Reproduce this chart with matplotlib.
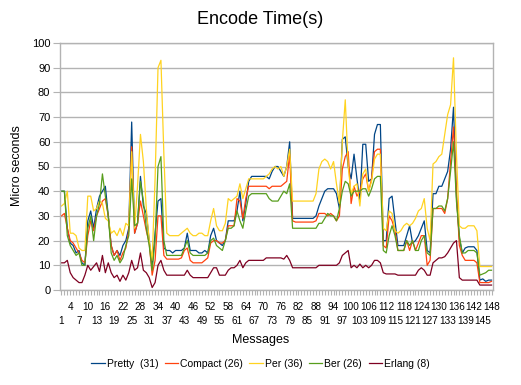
import matplotlib
matplotlib.use("Agg")
import matplotlib.pyplot as plt
from matplotlib.ticker import FixedLocator, FixedFormatter
import numpy as np

plt.rcParams['font.family'] = ['Liberation Sans', 'DejaVu Sans']

messages = list(range(1, 149))

pretty = [40, 40, 25, 19, 18, 15, 16, 11, 10, 28,
          32, 25, 33, 38, 40, 42, 30, 18, 14, 16,
          14, 18, 20, 25, 68, 23, 27, 46, 34, 31,
          20, 10, 23, 36, 37, 17, 16, 16, 15, 16,
          16, 16, 17, 23, 16, 16, 16, 15, 15, 16,
          15, 22, 25, 20, 19, 18, 20, 28, 28, 28,
          32, 40, 28, 35, 44, 46, 46, 46, 46, 46,
          46, 45, 48, 50, 50, 48, 46, 50, 60, 29,
          29, 29, 29, 29, 29, 29, 29, 30, 34, 37,
          40, 41, 41, 41, 39, 33, 61, 62, 50, 45,
          55, 45, 36, 59, 59, 44, 45, 63, 67, 67,
          20, 20, 37, 38, 28, 18, 18, 18, 22, 26,
          19, 20, 22, 25, 28, 16, 15, 39, 39, 42,
          42, 45, 48, 57, 74, 38, 21, 15, 17, 17.5,
          17.5, 17.5, 16, 4, 4.5, 3.5, 4, 4]

compact = [30, 31, 25, 20, 19, 17, 15, 12, 11, 22,
           28, 24, 30, 33, 36, 37, 30, 18, 14, 16,
           12, 15, 17, 24, 58, 23, 27, 36, 30, 24,
           19, 6, 12, 30, 30, 14, 12.5, 12.5, 12.5, 12.5,
           12.5, 13, 16, 17, 12, 11, 11, 11, 11, 12,
           13, 19, 20, 20, 19, 19, 20, 26, 26, 26,
           37, 36, 29, 37, 42, 42, 42, 42, 42, 42,
           42, 41, 42, 42, 42, 42, 43, 44, 55, 28,
           27.5, 27.5, 27.5, 27.5, 27.5, 27.5, 27.5, 28, 31, 31,
           31, 30, 31, 30, 28, 30, 49, 54, 56, 35,
           42, 38, 40, 45, 47, 40, 45, 56, 57, 57,
           18, 17, 30, 28, 24, 16, 16, 16, 20, 16,
           20, 16, 19, 22, 22, 10, 12, 33, 33, 33,
           33, 31, 37, 52, 66, 40, 18, 14, 12, 12,
           12, 12, 11, 3, 3, 3, 3, 3.5]

per = [34, 35, 40, 23, 23, 22, 17, 16, 16, 38,
       38, 32, 33, 36, 35, 29, 28, 23, 24, 22,
       25, 22, 27, 26, 56, 25, 42, 63, 52, 33,
       20, 12, 45, 90, 93, 55, 23, 22, 22, 22,
       22, 23, 24, 25, 23, 22, 22, 23, 23, 22,
       22, 28, 33, 26, 24, 24, 27, 37, 36, 37,
       38, 43, 37, 41, 45, 45, 45, 45, 45, 45,
       46, 47, 49, 50, 49, 50, 46, 50, 57, 36,
       36, 36, 36, 36, 36, 36, 36, 39, 49, 52,
       53, 52, 49, 52, 43, 35, 60, 77, 50, 39,
       42, 43, 34, 47, 49, 40, 44, 53, 55, 55,
       25, 24, 32, 31, 24, 23, 24, 26, 27, 26,
       27, 29, 32, 33, 37, 25, 20, 51, 52, 54,
       55, 63, 71, 75, 94, 55, 26, 25, 25, 26,
       26, 26, 24, 9.5, 9.5, 9.5, 9.5, 9.5]

ber = [40, 40, 22, 18, 16, 14, 15, 10, 10, 25,
       30, 20, 30, 35, 47, 38, 30, 15, 12, 14,
       11, 13, 18, 22, 45, 26, 27, 44, 36, 25,
       18, 8, 20, 50, 54, 20, 14, 14, 14, 14,
       14, 14, 17, 20, 15, 14, 14, 14, 14, 14,
       15, 20, 21, 18, 17, 16, 20, 25, 25, 26,
       32, 28, 25, 32, 38, 39, 39, 39, 39, 39,
       39, 37, 36, 36, 36, 38, 40, 39, 43, 25,
       25, 25, 25, 25, 25, 25, 25, 25, 27, 27,
       29, 31, 30, 30, 28, 33, 40, 44, 43, 38,
       40, 40, 40, 41, 41, 38, 41, 45, 46, 46,
       16, 15, 22, 26, 22, 16, 16, 16, 20, 18,
       20, 16, 16, 20, 22, 15, 14, 33, 33, 34,
       34, 32, 37, 48, 60, 36, 22, 15, 15, 16,
       16, 16, 15, 6, 6.5, 7, 8, 8]

erlang = [11, 11, 12, 7, 5, 4, 3, 3, 6, 10,
          8, 9.5, 11, 7.5, 14, 7, 11, 7, 5, 6,
          3.5, 6, 4, 7, 12, 8, 9, 15, 8, 7,
          5, 1, 3, 10, 12, 8, 6, 6, 6, 6,
          6, 6, 6, 8, 6, 5, 5, 5, 5, 5,
          5, 7, 9, 9, 6, 6, 6, 8, 9, 9,
          10, 12, 9, 11, 12, 12, 12, 12, 12, 12,
          13, 13, 13, 13, 13, 13, 12.5, 14, 12, 9,
          9, 9, 9, 9, 9, 9, 9, 9, 10, 10,
          10, 10, 10, 10, 10, 11, 14, 15, 16, 9,
          10, 9, 10.5, 9, 10, 9, 10, 12, 12, 11,
          7, 6.5, 6.5, 6.5, 6.5, 6, 6, 6, 6, 6,
          6, 6, 8, 9, 8, 6, 6, 11, 12, 13,
          13, 13.5, 15, 17, 19, 20, 5, 4, 4, 4,
          4, 4, 4, 2, 2, 2, 2, 2]

series = [("Pretty  (31)", pretty, "#004586"),
          ("Compact (26)", compact, "#ff420e"),
          ("Per (36)", per, "#ffd320"),
          ("Ber (26)", ber, "#579d1c"),
          ("Erlang (8)", erlang, "#7e0021")]

W, H = 521, 385
fig = plt.figure(figsize=(W / 100, H / 100), dpi=100)
ax = fig.add_axes([60 / W, (H - 290) / H, 433 / W, 247 / H])

grid_c = "#b3b3b3"
for label, vals, col in series:
    ax.plot(messages, vals, color=col, lw=0.9, label=label)

ax.set_xlim(0.5, 148.5)
ax.set_ylim(0, 100)
ax.set_yticks(np.arange(0, 101, 10))
ax.yaxis.grid(True, color=grid_c, lw=1.0)
ax.set_axisbelow(True)
for s in ax.spines.values():
    s.set_color(grid_c)
    s.set_linewidth(1.0)

upper = [i for i in messages if (i - 1) % 6 == 3]
others = [i for i in messages if (i - 1) % 6 != 3]
ax.xaxis.set_major_locator(FixedLocator(upper))
ax.xaxis.set_major_formatter(FixedFormatter([str(i) for i in upper]))
ax.xaxis.set_minor_locator(FixedLocator(others))
ax.xaxis.set_minor_formatter(FixedFormatter([str(i) if (i - 1) % 6 == 0 else "" for i in others]))
ax.tick_params(axis='x', which='major', length=3.5, width=0.8, color=grid_c, pad=5, labelsize=7.2)
ax.tick_params(axis='x', which='minor', length=3.5, width=0.8, color=grid_c, pad=15.5, labelsize=7.2)
ax.tick_params(axis='y', length=5, width=0.8, color=grid_c, labelsize=8, pad=2)

fig.text(0.5, 1 - 20 / H, "Encode Time(s)", ha='center', va='center', fontsize=13)
fig.text(0.5, 1 - 340 / H, "Messages", ha='center', va='center', fontsize=9)
fig.text(17 / W, 1 - 166 / H, "Micro seconds", ha='center', va='center', rotation=90, fontsize=9)

fig.legend(loc='center', bbox_to_anchor=(0.5, 1 - 364 / H), ncol=5, frameon=False,
           fontsize=7.5, handlelength=1.3, handletextpad=0.2, columnspacing=0.6)

fig.savefig("out.png", dpi=100)
